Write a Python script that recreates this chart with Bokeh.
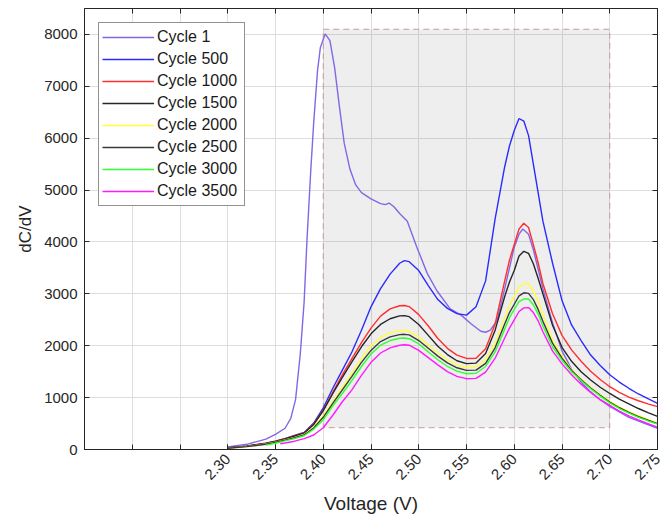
import math
from bokeh.plotting import figure
from bokeh.models import FixedTicker, LinearAxis, Range1d, Legend, LegendItem
from bokeh.embed import file_html
from bokeh.resources import INLINE

# ---------------- data ----------------
labels = ["Cycle 1", "Cycle 500", "Cycle 1000", "Cycle 1500",
          "Cycle 2000", "Cycle 2500", "Cycle 3000", "Cycle 3500"]
colors = ["#8466e6", "#2b2bff", "#ff2e2e", "#262626",
          "#ffff3a", "#3a3a3a", "#33ff33", "#ff1aff"]

volt_c1 = [2.30, 2.32, 2.34, 2.35, 2.36, 2.366, 2.371, 2.376, 2.380, 2.383,
           2.387, 2.390, 2.394, 2.397, 2.402, 2.407, 2.412, 2.417, 2.422, 2.428,
           2.434, 2.440, 2.450, 2.460, 2.465, 2.469, 2.474, 2.480, 2.488, 2.498,
           2.509, 2.519, 2.533, 2.545, 2.555, 2.565, 2.570, 2.575, 2.582, 2.590,
           2.600, 2.605, 2.609, 2.615, 2.620, 2.630, 2.640, 2.650, 2.660, 2.670,
           2.680, 2.690, 2.700, 2.720, 2.750]
cycle_1 = [50, 100, 200, 290, 410, 600, 960, 1850, 2850, 4050,
           5400, 6300, 7300, 7750, 8010, 7880, 7350, 6600, 5900, 5400,
           5100, 4950, 4830, 4740, 4720, 4750, 4680, 4550, 4400, 3900,
           3390, 3060, 2710, 2580, 2420, 2280, 2260, 2300, 2490, 3100,
           3900, 4150, 4250, 4150, 3850, 3100, 2450, 1900, 1550, 1300,
           1110, 960, 830, 620, 410]

volt = [2.30, 2.32, 2.34, 2.35, 2.36, 2.37, 2.38, 2.39, 2.40, 2.41,
        2.42, 2.43, 2.44, 2.45, 2.46, 2.47, 2.48, 2.485, 2.49, 2.50,
        2.51, 2.52, 2.53, 2.54, 2.55, 2.56, 2.57, 2.58, 2.59, 2.595,
        2.60, 2.605, 2.61, 2.615, 2.62, 2.625, 2.63, 2.64, 2.65, 2.66,
        2.67, 2.68, 2.69, 2.70, 2.71, 2.72, 2.73, 2.74, 2.75]
cycle_500 = [35, 65, 120, 160, 210, 270, 330, 510, 800, 1180,
             1530, 1880, 2300, 2750, 3100, 3380, 3590, 3640, 3620, 3450,
             3160, 2890, 2720, 2620, 2590, 2750, 3250, 4450, 5450, 5850,
             6150, 6380, 6330, 6050, 5500, 4950, 4400, 3600, 2870, 2400,
             2100, 1820, 1620, 1440, 1300, 1180, 1070, 980, 890]
cycle_1000 = [30, 65, 120, 160, 210, 265, 320, 490, 760, 1100,
              1440, 1750, 2060, 2340, 2570, 2710, 2770, 2775, 2755, 2600,
              2380, 2140, 1950, 1820, 1755, 1760, 1940, 2420, 3250, 3650,
              3950, 4250, 4360, 4280, 3950, 3600, 3200, 2620, 2200, 1920,
              1700, 1510, 1350, 1210, 1100, 1010, 940, 880, 825]
cycle_1500 = [30, 65, 118, 155, 205, 260, 315, 480, 750, 1080,
              1390, 1690, 1980, 2230, 2410, 2520, 2575, 2580, 2560, 2410,
              2200, 1990, 1830, 1710, 1655, 1665, 1850, 2300, 2950, 3230,
              3450, 3730, 3820, 3780, 3580, 3300, 3000, 2400, 1970, 1700,
              1500, 1340, 1200, 1080, 970, 880, 790, 710, 640]
cycle_2000 = [25, 55, 105, 140, 185, 235, 290, 430, 650, 920,
              1190, 1470, 1750, 2000, 2160, 2250, 2290, 2293, 2280, 2170,
              2020, 1860, 1730, 1630, 1580, 1590, 1730, 2050, 2550, 2780,
              2950, 3130, 3200, 3190, 3060, 2850, 2600, 2120, 1790, 1540,
              1360, 1200, 1060, 930, 820, 730, 650, 580, 510]
cycle_2500 = [25, 55, 100, 135, 180, 228, 280, 415, 620, 890,
              1150, 1410, 1680, 1910, 2080, 2170, 2215, 2220, 2210, 2100,
              1950, 1800, 1670, 1575, 1525, 1530, 1660, 1960, 2420, 2640,
              2800, 2960, 3020, 3010, 2890, 2700, 2470, 2050, 1760, 1525,
              1345, 1185, 1045, 915, 805, 715, 635, 565, 500]

volt_c3000 = volt[2:]
cycle_3000 = [85, 120, 165, 210, 265, 390, 570, 840,
              1080, 1330, 1600, 1840, 2010, 2100, 2145, 2150, 2135, 2036,
              1880, 1730, 1600, 1510, 1460, 1470, 1600, 1880, 2320, 2540,
              2700, 2850, 2900, 2900, 2790, 2610, 2380, 1980, 1720, 1500,
              1330, 1170, 1030, 900, 790, 700, 620, 550, 490]

volt_c3500 = [2.355] + volt[4:]
cycle_3500 = [110, 125, 160, 210, 280, 420, 660,
              920, 1150, 1430, 1680, 1860, 1960, 2010, 2020, 2010, 1910,
              1770, 1630, 1500, 1410, 1365, 1370, 1490, 1760, 2150, 2340,
              2500, 2660, 2730, 2735, 2640, 2480, 2270, 1900, 1650, 1440,
              1260, 1100, 960, 850, 740, 650, 570, 500, 430]

series_x = [volt_c1, volt, volt, volt, volt, volt, volt_c3000, volt_c3500]
series_y = [cycle_1, cycle_500, cycle_1000, cycle_1500,
            cycle_2000, cycle_2500, cycle_3000, cycle_3500]

# highlighted region (data units)
region_v = [2.40, 2.70]
region_q = [420, 8100]

x_ticks_all = [2.20, 2.25, 2.30, 2.35, 2.40, 2.45, 2.50, 2.55, 2.60, 2.65, 2.70, 2.75]
x_ticks_labeled = [2.30, 2.35, 2.40, 2.45, 2.50, 2.55, 2.60, 2.65, 2.70, 2.75]
x_tick_labels = ["2.30", "2.35", "2.40", "2.45", "2.50", "2.55",
                 "2.60", "2.65", "2.70", "2.75"]
y_ticks = [0, 1000, 2000, 3000, 4000, 5000, 6000, 7000, 8000]

# ---------------- figure ----------------
FONT = "Liberation Sans"
AX = "#262626"

p = figure(width=668, height=527, x_range=Range1d(2.15, 2.75),
           y_range=Range1d(0, 8500), output_backend="svg",
           toolbar_location=None, min_border_left=84, min_border_right=11,
           min_border_top=8, min_border_bottom=78)
p.background_fill_color = "white"
p.border_fill_color = "white"
p.outline_line_color = AX
p.outline_line_width = 1

xt = FixedTicker(ticks=x_ticks_labeled, minor_ticks=x_ticks_all)
yt = FixedTicker(ticks=y_ticks)

xa = p.xaxis[0]
xa.ticker = xt
xa.major_label_overrides = {t: l for t, l in zip(x_ticks_labeled, x_tick_labels)}
xa.major_label_orientation = math.pi / 4
xa.axis_label = "Voltage (V)"
ya = p.yaxis[0]
ya.ticker = yt
ya.axis_label = "dC/dV"

for ax in (xa, ya):
    ax.major_tick_in = 5
    ax.major_tick_out = 0
    ax.minor_tick_in = 5
    ax.minor_tick_out = 0
    ax.axis_line_color = AX
    ax.major_tick_line_color = AX
    ax.minor_tick_line_color = AX
    ax.major_label_text_color = AX
    ax.major_label_text_font = FONT
    ax.major_label_text_font_size = "15px"
    ax.axis_label_text_font = FONT
    ax.axis_label_text_font_style = "normal"
    ax.axis_label_text_font_size = "17px"
    ax.axis_label_text_color = AX
    ax.axis_label_standoff = 6
    ax.major_label_standoff = 7
ya.minor_tick_line_color = None
xa.axis_label_text_font_size = "19px"

top = LinearAxis(ticker=FixedTicker(ticks=[], minor_ticks=x_ticks_all),
                 major_tick_in=0, major_tick_out=0, minor_tick_in=5,
                 minor_tick_out=0, axis_line_color=AX,
                 minor_tick_line_color=AX, major_label_standoff=0)
right = LinearAxis(ticker=FixedTicker(ticks=[], minor_ticks=y_ticks),
                   major_tick_in=0, major_tick_out=0, minor_tick_in=5,
                   minor_tick_out=0, axis_line_color=AX,
                   minor_tick_line_color=AX, major_label_standoff=0)
p.add_layout(top, "above")
p.add_layout(right, "right")

p.xgrid.ticker = FixedTicker(ticks=x_ticks_all)
p.ygrid.ticker = yt
for g in (p.xgrid[0], p.ygrid[0]):
    g.grid_line_color = "#dedede"
    g.grid_line_width = 1

p.quad(left=[region_v[0]], right=[region_v[1]], bottom=[region_q[0]],
       top=[region_q[1]], fill_color="black", fill_alpha=0.065,
       line_color="#c89a9a", line_dash="6 4", line_width=1)

items = []
for lab, col, xs, ys in zip(labels, colors, series_x, series_y):
    r = p.line(xs, ys, line_color=col, line_width=1.4)
    items.append(LegendItem(label=lab, renderers=[r]))

legend = Legend(items=items, location="top_left")
legend.margin = 14
legend.padding = 3
legend.spacing = 0
legend.label_height = 22
legend.glyph_height = 22
legend.glyph_width = 52
legend.label_standoff = 3
legend.label_width = 84
legend.label_text_font = FONT
legend.label_text_font_size = "16px"
legend.label_text_color = "#1a1a1a"
legend.border_line_color = AX
legend.border_line_width = 1
legend.background_fill_color = "white"
legend.background_fill_alpha = 1
p.add_layout(legend)

open("out.html", "w").write(file_html(p, INLINE))
